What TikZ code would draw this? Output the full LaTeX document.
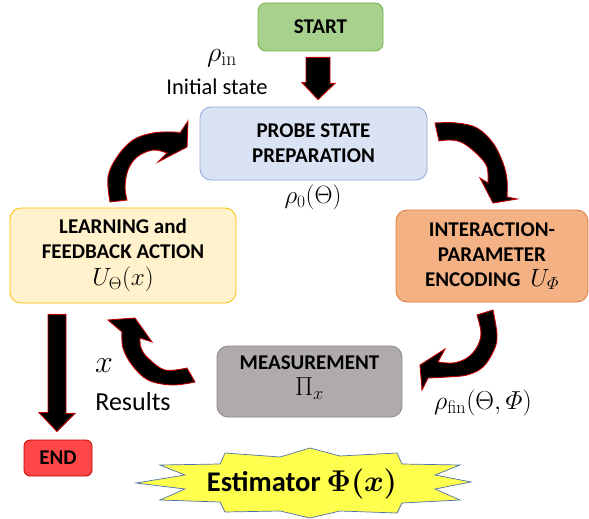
\RequirePackage{fix-cm}
\documentclass[tikz,border=0pt]{standalone}
\usepackage{amsmath}
\usepackage[no-math]{fontspec}
\setmainfont{Carlito}
\usepackage{bm}
\usetikzlibrary{calc}
\definecolor{startfill}{HTML}{A9D18E}
\definecolor{startdraw}{HTML}{70AD47}
\definecolor{probefill}{HTML}{DAE3F3}
\definecolor{probedraw}{HTML}{8FAADC}
\definecolor{learnfill}{HTML}{FFF2CC}
\definecolor{learndraw}{HTML}{FFC000}
\definecolor{interfill}{HTML}{F4B183}
\definecolor{interdraw}{HTML}{E07B39}
\definecolor{measfill}{HTML}{AFABAB}
\definecolor{measdraw}{HTML}{8C8888}
\definecolor{endfill}{HTML}{FF4747}
\definecolor{enddraw}{HTML}{C00000}
\definecolor{arrowred}{HTML}{C00000}
\definecolor{starfill}{HTML}{FFFF4D}
\definecolor{stardraw}{HTML}{4F6FA8}
\begin{document}
\begin{tikzpicture}[x=1pt,y=-1pt,
  box/.style={draw, rounded corners=11pt, line width=0.8pt, align=center,
    font=\bfseries\fontsize{21}{25}\selectfont, inner sep=0pt},
  fat/.style={fill=black, draw=arrowred, line width=0.9pt, line join=miter},
  lbl/.style={inner sep=0pt, font=\fontsize{22.5}{26}\selectfont},
  mlbl/.style={inner sep=0pt, font=\fontsize{24}{28}\selectfont}]
\useasboundingbox (0,0) rectangle (589,519);

% boxes
\node[box, fill=startfill, draw=startdraw, rounded corners=8pt,
  minimum width=125pt, minimum height=48pt] (start) at (320.5,27) {START};
\node[box, fill=probefill, draw=probedraw,
  minimum width=227pt, minimum height=73pt] (probe) at (313.5,143.5)
  {PROBE STATE\\PREPARATION};
\node[box, fill=learnfill, draw=learndraw,
  minimum width=226pt, minimum height=95pt] (learn) at (123,255.5)
  {LEARNING and\\FEEDBACK ACTION\\[2pt]{\fontsize{25}{27}\selectfont$U_{\Theta}(x)$}};
\node[box, fill=interfill, draw=interdraw,
  minimum width=192pt, minimum height=92pt] (inter) at (492,256)
  {INTERACTION-\\PARAMETER\\ENCODING\hspace{10pt}{\fontsize{25}{27}\selectfont$U_{\varPhi}$}};
\node[box, fill=measfill, draw=measdraw,
  minimum width=185pt, minimum height=71pt] (meas) at (309.5,381.5) {};
\node[inner sep=0pt, align=center, font=\bfseries\fontsize{21}{25}\selectfont]
  (meastxt) at (309.5,378) {MEASUREMENT\\[1pt]{\mdseries\fontsize{26}{27}\selectfont$\Pi_x$}};
\node[box, fill=endfill, draw=enddraw, rounded corners=6pt,
  minimum width=68pt, minimum height=36pt] (end) at (58,458) {END};

% labels
\node[mlbl, font=\fontsize{28}{30}\selectfont] (rhoin) at (222,58) {$\rho_{\mathrm{in}}$};
\node[lbl] (initial) at (217,87) {Initial state};
\node[mlbl, font=\fontsize{25}{28}\selectfont] (rho0) at (313,197) {$\rho_0(\Theta)$};
\node[mlbl, font=\fontsize{26}{30}\selectfont] (rhofin) at (483,403) {$\rho_{\mathrm{fin}}(\Theta,\varPhi)$};
\node[mlbl, font=\fontsize{32}{34}\selectfont] (xres) at (104,366) {$x$};
\node[lbl, font=\fontsize{26}{30}\selectfont] (results) at (133,402) {Results};

% straight block arrows
\filldraw[fat] ($(start.south)+(-14.5,6)$) -- ++(24,0) -- ++(0,26) -- ++(5,0)
  -- ($(probe.north)+(4.5,-7)$) -- ++(-16,-17) -- ++(4,0) -- cycle;
\filldraw[fat] ($(learn.south)+(-75,11)$) -- ++(18,0) -- ++(0,99) -- ++(9,0)
  -- ($(end.north)+(-1,-8)$) -- ++(-18,-19) -- ++(9,0) -- cycle;

% curved arrows
\filldraw[fat] plot[smooth, tension=0.6] coordinates {(110,202) (108,177) (117,157) (133,140) (153,133) (173,132) (180,133)}
  -- (188,121) -- (187,147) -- (158,162) -- (167,153)
  -- plot[smooth, tension=0.6] coordinates {(167,153) (153,150) (137,157) (128,170) (125,187) (127,200)} -- cycle;
\filldraw[fat] plot[smooth, tension=0.6] coordinates {(435,123) (457,123) (477,128) (493,143) (503,163) (507,180) (507,197)}
  -- (517,199) -- (493,203) -- (480,178) -- (488,183)
  -- plot[smooth, tension=0.6] coordinates {(488,183) (487,167) (478,155) (463,143) (450,140) (439,141)} -- cycle;
\filldraw[fat] plot[smooth, tension=0.6] coordinates {(493,310) (497,335) (494,350) (483,367) (467,375) (447,377) (428,378)}
  -- (422,390) -- (420,365) -- (445,349) -- (438,362)
  -- plot[smooth, tension=0.6] coordinates {(438,362) (453,363) (467,358) (477,347) (481,333) (477,315)} -- cycle;
\filldraw[fat] plot[smooth, tension=0.6] coordinates {(195,382) (172,385) (148,380) (132,365) (123,348) (122,332)}
  -- (108,320) -- (135,318) -- (152,342) -- (140,338)
  -- plot[smooth, tension=0.6] coordinates {(140,338) (141,348) (148,358) (165,370) (187,368)} -- cycle;

% estimator star
\filldraw[fill=starfill, draw=stardraw, line width=0.7pt]
  (136,483) -- (185,475) -- (160,465) -- (220,464) -- (225,453) -- (280,457) -- (310,448)
  -- (340,456) -- (397,453) -- (402,464) -- (460,465) -- (435,475) -- (471,482)
  -- (435,489) -- (460,500) -- (402,503) -- (397,513) -- (340,511) -- (310,518)
  -- (280,511) -- (225,512) -- (220,502) -- (160,500) -- (185,489) -- cycle;
\node[inner sep=0pt, font=\bfseries\fontsize{28.5}{32}\selectfont] (est) at (302,484)
  {Estimator\hspace{6pt}{\fontsize{30}{32}\selectfont$\bm{\Phi(x)}$}};
\end{tikzpicture}
\end{document}
